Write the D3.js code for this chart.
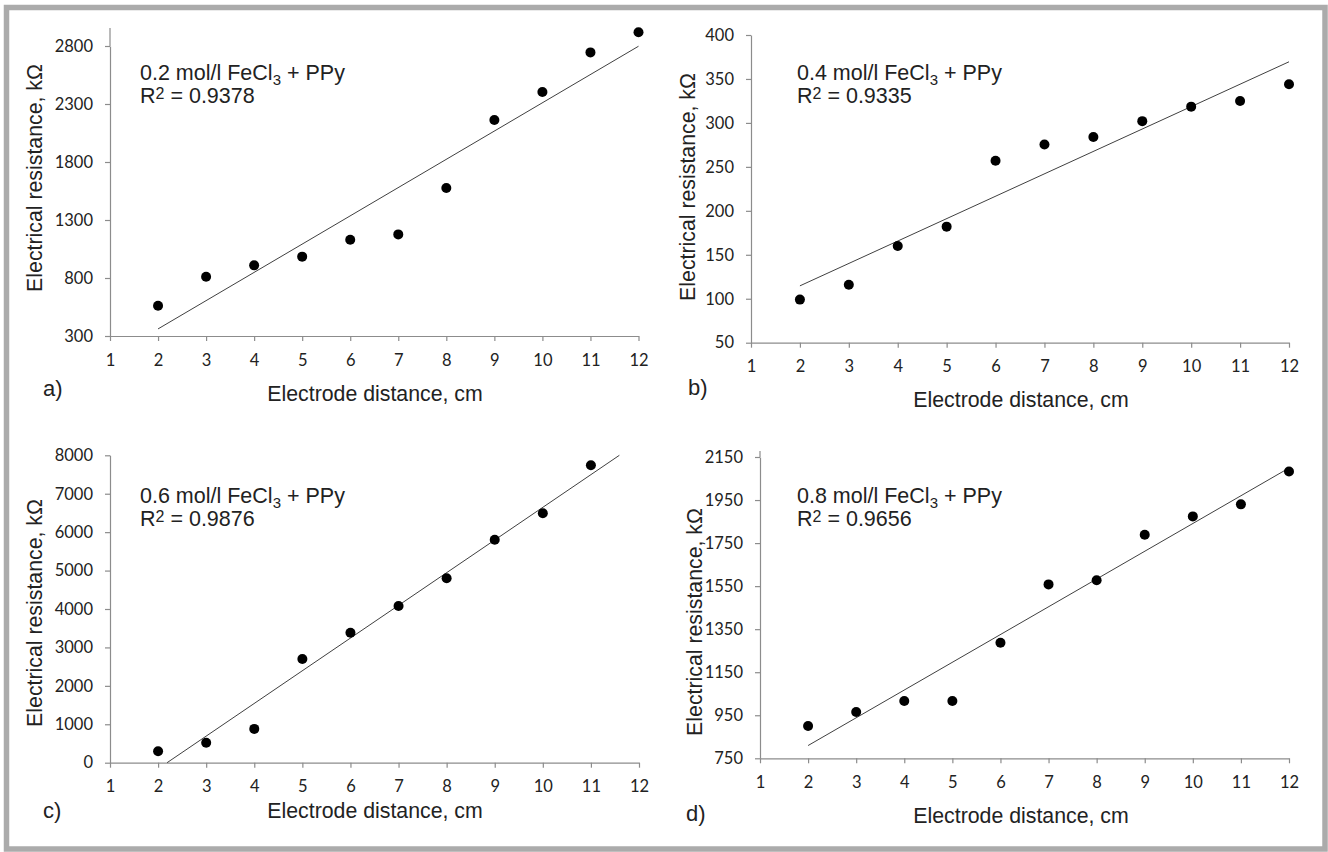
<!DOCTYPE html>
<html>
<head>
<meta charset="utf-8">
<script src="https://cdn.jsdelivr.net/npm/d3@7"></script>
<style>
  html, body { margin: 0; padding: 0; background: #fff; }
  svg { display: block; }
</style>
</head>
<body>
<svg id="chart" width="1328" height="852"></svg>
<script>
// ---------------- DATA ----------------
const xTickValues = [1, 2, 3, 4, 5, 6, 7, 8, 9, 10, 11, 12];

const distanceA = [2, 3, 4, 5, 6, 7, 8, 9, 10, 11, 12];
const resistanceA = [561, 811, 909, 984, 1130, 1176, 1576, 2162, 2403, 2745, 2918];
const yTicksA = [300, 800, 1300, 1800, 2300, 2800];

const distanceB = [2, 3, 4, 5, 6, 7, 8, 9, 10, 11, 12];
const resistanceB = [99, 116, 160, 182, 257, 275.5, 284, 302, 318.5, 325, 344];
const yTicksB = [50, 100, 150, 200, 250, 300, 350, 400];

const distanceC = [2, 3, 4, 5, 6, 7, 8, 9, 10, 11];
const resistanceC = [300, 520, 880, 2700, 3380, 4080, 4800, 5800, 6490, 7740];
const yTicksC = [0, 1000, 2000, 3000, 4000, 5000, 6000, 7000, 8000];

const distanceD = [2, 3, 4, 5, 6, 7, 8, 9, 10, 11, 12];
const resistanceD = [900, 965, 1016, 1016, 1287, 1558, 1577, 1789, 1874, 1930, 2083];
const yTicksD = [750, 950, 1150, 1350, 1550, 1750, 1950, 2150];

const concentrations = ["0.2", "0.4", "0.6", "0.8"];
const r2Values = ["0.9378", "0.9335", "0.9876", "0.9656"];
const panelLetters = ["a)", "b)", "c)", "d)"];
const xTitle = "Electrode distance, cm";
const yTitle = "Electrical resistance, kΩ";

// ---------------- LAYOUT ----------------
const layouts = [
  {x0:110, x1:638.5, yTop:46,    yBot:336,   axisTop:28,  lx:43,  ly:396, tx:375,  ty:401, yx:42,  yy:178, ax:140, ay:80},
  {x0:751, x1:1289,  yTop:35,    yBot:342.7, axisTop:35,  lx:688, ly:395, tx:1021, ty:407, yx:695, yy:187, ax:797, ay:80},
  {x0:110, x1:639,   yTop:455.3, yBot:762.7, axisTop:455, lx:43,  ly:818, tx:375,  ty:818, yx:42,  yy:613, ax:140, ay:503},
  {x0:760, x1:1289,  yTop:457,   yBot:758.3, axisTop:451, lx:686, ly:821, tx:1021, ty:823, yx:702, yy:622, ax:797, ay:503}
];

const panels = [
  {xs: distanceA, ys: resistanceA, ticks: yTicksA},
  {xs: distanceB, ys: resistanceB, ticks: yTicksB},
  {xs: distanceC, ys: resistanceC, ticks: yTicksC},
  {xs: distanceD, ys: resistanceD, ticks: yTicksD}
];

const svg = d3.select("#chart");
const axisColor = "#8c8c8c";
const textColor = "#222";
const tickFont = "Lato, 'Open Sans', sans-serif";
const mainFont = "'Liberation Sans', Arial, sans-serif";

// outer frame
svg.append("rect")
  .attr("x", 6.5).attr("y", 7.5)
  .attr("width", 1318.5).attr("height", 841.5)
  .attr("fill", "none")
  .attr("stroke", "#ababab")
  .attr("stroke-width", 5.5);

function linReg(xs, ys) {
  const n = xs.length;
  const mx = d3.mean(xs), my = d3.mean(ys);
  let sxy = 0, sxx = 0;
  for (let i = 0; i < n; i++) { sxy += (xs[i]-mx)*(ys[i]-my); sxx += (xs[i]-mx)**2; }
  const b = sxy / sxx;
  return {slope: b, intercept: my - b*mx};
}

panels.forEach((p, i) => {
  const L = layouts[i];
  const g = svg.append("g");
  const yMin = d3.min(p.ticks), yMax = d3.max(p.ticks);
  const x = d3.scaleLinear().domain([1, 12]).range([L.x0, L.x1]);
  const y = d3.scaleLinear().domain([yMin, yMax]).range([L.yBot, L.yTop]);

  const xAxis = g.append("g")
    .attr("transform", `translate(0,${L.yBot})`)
    .call(d3.axisBottom(x).tickValues(xTickValues).tickSize(5).tickSizeOuter(0).tickPadding(13).tickFormat(d3.format("d")));
  const yAxis = g.append("g")
    .attr("transform", `translate(${L.x0},0)`)
    .call(d3.axisLeft(y).tickValues(p.ticks).tickSize(5).tickSizeOuter(0).tickPadding(12).tickFormat(d3.format("d")));
  [xAxis, yAxis].forEach(ax => {
    ax.select(".domain").attr("stroke", axisColor).attr("stroke-width", 1.2);
    ax.selectAll(".tick line").attr("stroke", axisColor).attr("stroke-width", 1.2);
    ax.selectAll(".tick text").attr("fill", textColor)
      .style("font-family", tickFont).style("font-size", "16.5px");
  });
  if (L.axisTop < L.yTop) {
    g.append("line").attr("x1", L.x0).attr("x2", L.x0)
      .attr("y1", L.axisTop).attr("y2", L.yTop)
      .attr("stroke", axisColor).attr("stroke-width", 1.2);
  }

  // trend line (least squares of the data), clipped to the y domain
  const r = linReg(p.xs, p.ys);
  let xa = 2, xb = 12;
  const f = v => r.intercept + r.slope * v;
  if (f(xa) < yMin) xa = (yMin - r.intercept) / r.slope;
  if (f(xb) > yMax) xb = (yMax - r.intercept) / r.slope;
  g.append("line")
    .attr("x1", x(xa)).attr("y1", y(f(xa)))
    .attr("x2", x(xb)).attr("y2", y(f(xb)))
    .attr("stroke", "#404040").attr("stroke-width", 1);

  g.selectAll("circle.pt").data(p.xs.map((d, k) => [d, p.ys[k]]))
    .enter().append("circle")
    .attr("class", "pt")
    .attr("cx", d => x(d[0])).attr("cy", d => y(d[1]))
    .attr("r", 5).attr("fill", "#000");

  const t1 = g.append("text").attr("x", L.ax).attr("y", L.ay)
    .attr("fill", textColor).style("font-family", mainFont).style("font-size", "21.5px");
  t1.append("tspan").text(`${concentrations[i]} mol/l FeCl`);
  t1.append("tspan").attr("dy", 5).style("font-size", "15px").text("3");
  t1.append("tspan").attr("dy", -5).text(" + PPy");
  const t2 = g.append("text").attr("x", L.ax).attr("y", L.ay + 22.5)
    .attr("fill", textColor).style("font-family", mainFont).style("font-size", "21.5px");
  t2.append("tspan").text("R");
  t2.append("tspan").attr("dy", -4).style("font-size", "16px").text("2");
  t2.append("tspan").attr("dy", 4).text(` = ${r2Values[i]}`);

  g.append("text").attr("x", L.tx).attr("y", L.ty)
    .attr("text-anchor", "middle").attr("fill", textColor)
    .style("font-family", mainFont).style("font-size", "21.3px")
    .text(xTitle);
  g.append("text")
    .attr("transform", `translate(${L.yx},${L.yy}) rotate(-90)`)
    .attr("text-anchor", "middle").attr("fill", textColor)
    .style("font-family", mainFont).style("font-size", "21.3px")
    .text(yTitle);
  g.append("text").attr("x", L.lx).attr("y", L.ly)
    .attr("fill", textColor)
    .style("font-family", mainFont).style("font-size", "22px")
    .text(panelLetters[i]);
});
</script>
</body>
</html>
